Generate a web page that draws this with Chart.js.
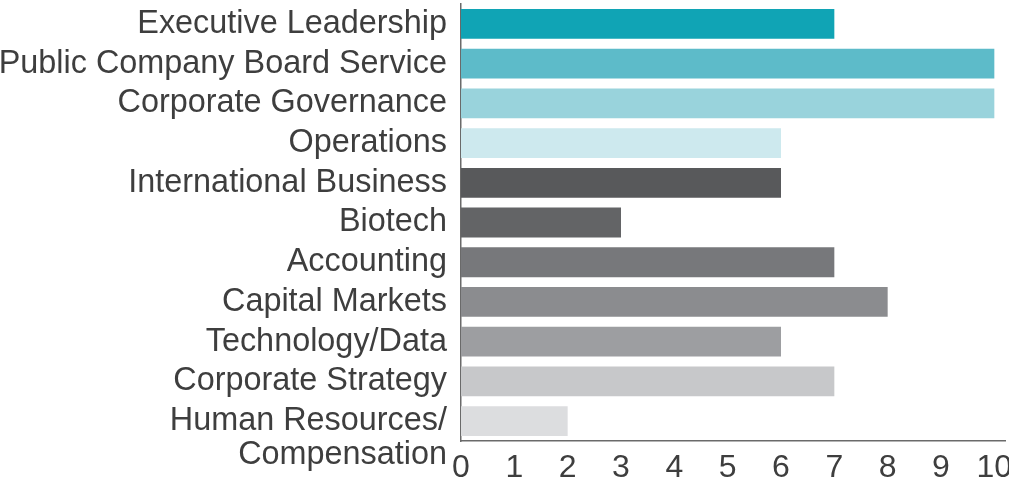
<!DOCTYPE html>
<html>
<head>
<meta charset="utf-8">
<script src="https://cdn.jsdelivr.net/npm/chart.js@4/dist/chart.umd.min.js"></script>
<style>
  html, body { margin: 0; padding: 0; background: #ffffff; }
  #wrap { width: 1009px; height: 486px; position: relative; }
</style>
</head>
<body>
<div id="wrap"><canvas id="c" width="1009" height="486"></canvas></div>
<script>
const categories = [
  "Executive Leadership",
  "Public Company Board Service",
  "Corporate Governance",
  "Operations",
  "International Business",
  "Biotech",
  "Accounting",
  "Capital Markets",
  "Technology/Data",
  "Corporate Strategy",
  ["", "Human Resources/", "Compensation"]
];
const values = [7, 10, 10, 6, 6, 3, 7, 8, 6, 7, 2];
const barColors = [
  "#10a4b5", "#5dbbc9", "#99d3dc", "#cde9ee",
  "#58595b", "#636466", "#77787b", "#8b8c8f", "#9d9ea1",
  "#c7c8ca", "#dcdddf"
];
const xTicks = [0, 1, 2, 3, 4, 5, 6, 7, 8, 9, 10];

const textColor = "#3e3e3e";
const fontFamily = "'Liberation Sans', Arial, Helvetica, sans-serif";

new Chart(document.getElementById("c"), {
  type: "bar",
  data: {
    labels: categories,
    datasets: [{
      data: values,
      backgroundColor: barColors,
      borderWidth: 0,
      categoryPercentage: 1.0,
      barPercentage: 0.75
    }]
  },
  options: {
    indexAxis: "y",
    responsive: false,
    animation: false,
    devicePixelRatio: 1,
    layout: { padding: { top: 4, right: 4, left: 0, bottom: 0 } },
    plugins: { legend: { display: false }, tooltip: { enabled: false } },
    scales: {
      x: {
        type: "linear",
        min: 0,
        max: 10.2,
        afterBuildTicks: (s) => { s.ticks = xTicks.map(v => ({ value: v })); },
        afterFit: (s) => { s.height = 45; s.paddingLeft = 0; s.paddingRight = 0; },
        grid: { display: false, drawTicks: false },
        border: { display: true, color: "#6a6a6a", width: 1.5 },
        ticks: {
          color: textColor,
          padding: 8,
          maxRotation: 0,
          autoSkip: false,
          font: { family: fontFamily, size: 32 }
        }
      },
      y: {
        afterFit: (s) => { s.width = 461; s.paddingTop = 0; s.paddingBottom = 0; },
        grid: { display: false, drawTicks: false },
        border: { display: true, color: "#6a6a6a", width: 1.5 },
        ticks: {
          color: textColor,
          padding: 14,
          autoSkip: false,
          font: { family: fontFamily, size: 32.4, lineHeight: 1.05 }
        }
      }
    }
  }
});
</script>
</body>
</html>
